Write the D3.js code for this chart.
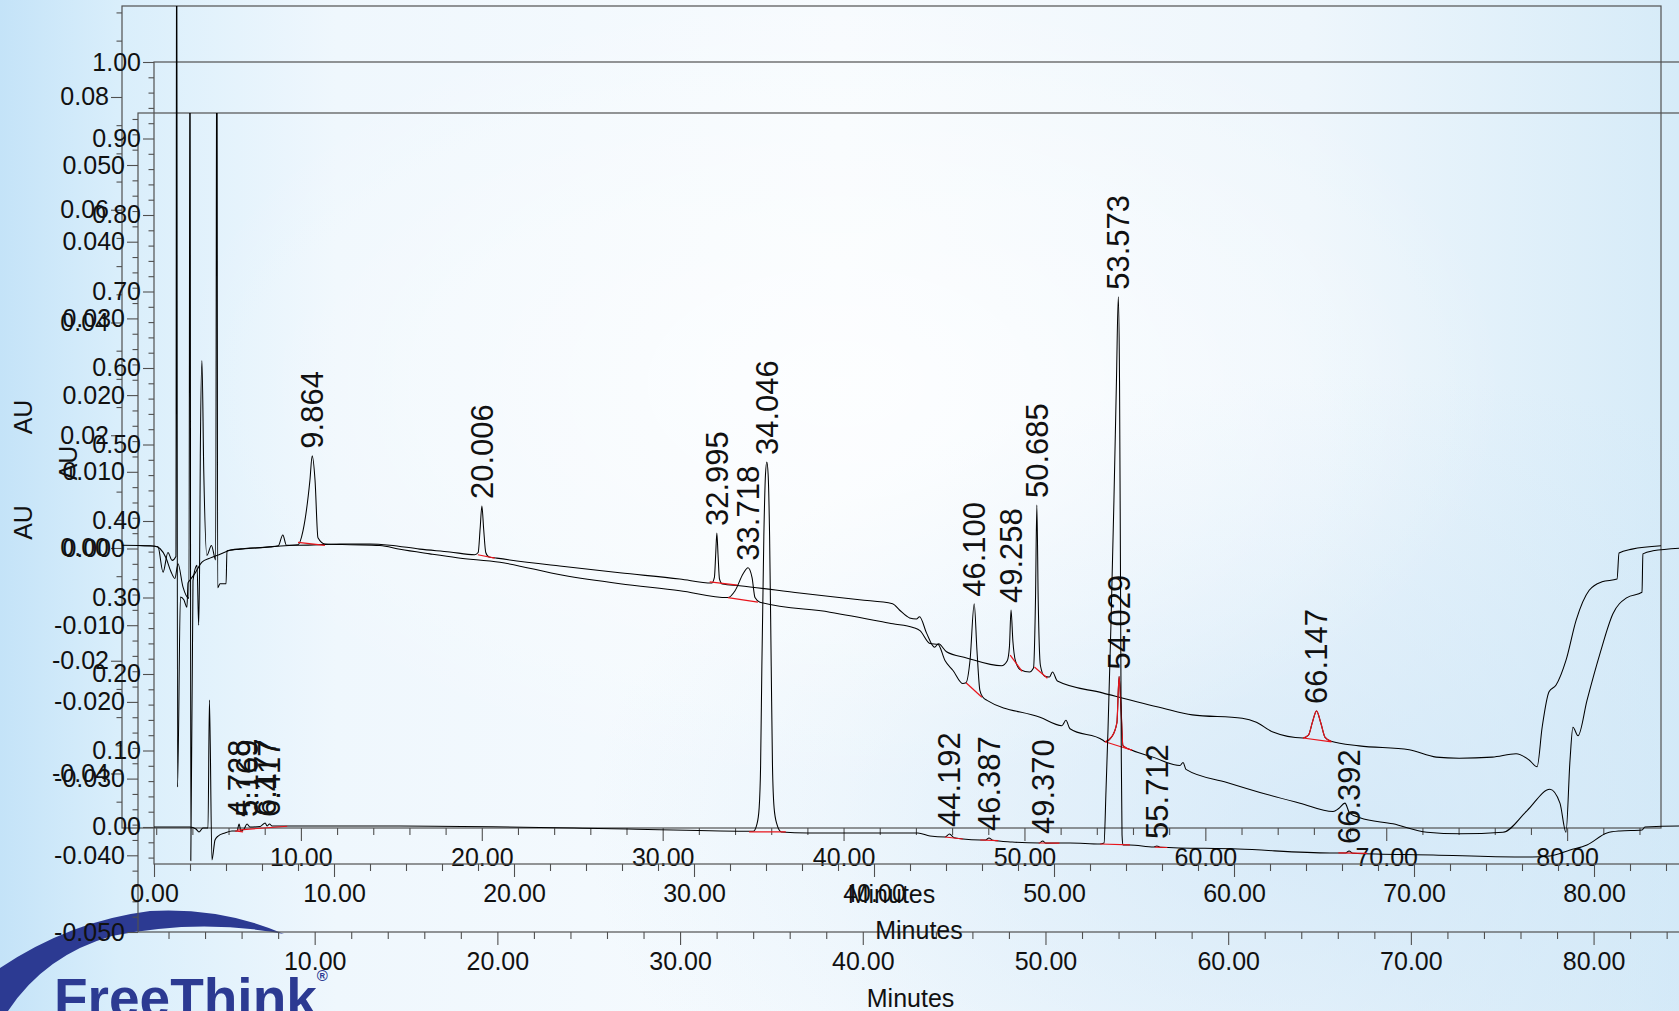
<!DOCTYPE html>
<html>
<head>
<meta charset="utf-8">
<script src="https://cdn.jsdelivr.net/npm/d3@7"></script>
<style>
  html, body { margin: 0; padding: 0; overflow: hidden; background: #eef6fc; }
  svg { display: block; font-family: "Liberation Sans", Arial, Helvetica, sans-serif; }
</style>
</head>
<body>
<svg id="chart" width="1679" height="1011"></svg>
<script>
// ---------------------------------------------------------------
// Chromatogram overlay: three injections, each with its own frame
// and AU axis. Points are [retention time (min), absorbance (AU)].
// ---------------------------------------------------------------

// Injection A (upper trace)
const traceA = [
  [0.11, 0.0005], [1.66, 0.0004], [2.10, 0.0002], [2.38, -0.0043], [2.65, -0.0008],
  [2.88, -0.0022], [3.09, -0.0015], [3.135, 0.13], [3.18, -0.0424], [3.34, -0.0087],
  [3.53, -0.0092], [3.70, -0.0105], [3.76, -0.0062], [3.87, -0.0057], [4.14, -0.0045],
  [4.53, -0.0025], [4.97, -0.0018], [5.47, -0.0012], [6.08, -0.0004], [6.91, -0.0001],
  [8.29, 0.0002], [8.75, 0.0004], [9.00, 0.0023], [9.20, 0.0005], [9.94, 0.0005],
  [12.15, 0.0007], [13.81, 0.0007], [14.92, 0.0005], [16.57, -0.0002], [18.23, -0.0007],
  [19.61, -0.0012], [19.80, -0.0008], [19.91, 0.0035], [20.006, 0.00745], [20.10, 0.0035],
  [20.22, -0.0008], [20.40, -0.0016], [20.83, -0.0018], [24.31, -0.0032], [27.62, -0.0044],
  [30.94, -0.0055], [32.71, -0.0062], [32.86, -0.0052], [32.93, -0.0012], [32.995, 0.00266],
  [33.06, -0.0012], [33.14, -0.0055], [33.30, -0.0064], [34.25, -0.0067], [37.57, -0.0080],
  [40.88, -0.0092], [42.71, -0.0099], [43.09, -0.0110], [43.65, -0.0124], [44.03, -0.0126],
  [44.20, -0.0122], [44.59, -0.0151], [45.03, -0.0176], [45.25, -0.0170], [45.69, -0.0184],
  [46.80, -0.0195], [48.73, -0.0209], [49.05, -0.0200], [49.17, -0.0175], [49.258, -0.0110],
  [49.36, -0.0165], [49.50, -0.0200], [49.78, -0.0216], [50.28, -0.0220], [50.50, -0.0213],
  [50.61, -0.0092], [50.685, 0.00763], [50.76, -0.0092], [50.88, -0.0208], [51.10, -0.0227],
  [51.38, -0.0229], [51.55, -0.0220], [51.82, -0.0236], [54.31, -0.0257], [57.62, -0.0284],
  [59.28, -0.0296], [62.04, -0.0302], [62.82, -0.0309], [63.70, -0.0326], [65.40, -0.0337],
  [65.70, -0.0332], [65.92, -0.0309], [66.147, -0.0289], [66.38, -0.0310], [66.62, -0.0336],
  [66.95, -0.0343], [68.51, -0.0351], [71.27, -0.0358], [72.76, -0.0371], [74.03, -0.0373],
  [75.86, -0.0371], [77.18, -0.0365], [77.90, -0.0376], [78.34, -0.0388], [78.62, -0.0318],
  [79.00, -0.0255], [79.39, -0.0243], [79.94, -0.0199], [80.50, -0.0128], [81.22, -0.0075],
  [81.93, -0.0060], [82.76, -0.0055], [82.87, -0.0009], [83.59, -0.0002], [85.19, 0.0004]
];

// Injection B (middle trace)
const traceB = [
  [0.33, 0.0004], [1.26, 0.0003], [1.53, 0.0000], [1.86, -0.0012], [2.13, -0.0030],
  [2.35, -0.0039], [2.52, -0.0020], [2.79, -0.0050], [3.12, -0.0065], [3.18, 0.08],
  [3.22, -0.0407], [3.34, -0.0042], [3.56, -0.0022], [3.65, -0.0100], [3.70, -0.0025],
  [3.74, 0.0120], [3.83, 0.0245], [3.93, 0.0100], [4.10, -0.0009], [4.35, 0.0004],
  [4.58, -0.0015], [4.65, 0.08], [4.69, -0.0051], [4.82, -0.0046], [5.15, -0.0046],
  [5.20, -0.0003], [5.91, -0.0001], [7.00, 0.0001], [7.99, 0.0003], [9.09, 0.0005],
  [9.36, 0.0023], [9.74, 0.0089], [9.864, 0.0121], [10.02, 0.0089], [10.18, 0.0014],
  [10.56, 0.0006], [11.93, 0.0005], [13.57, 0.0004], [14.67, -0.0001], [16.31, -0.0007],
  [17.79, -0.0012], [20.14, -0.0018], [23.59, -0.0035], [26.71, -0.0046], [29.99, -0.0055],
  [32.62, -0.0064], [33.01, -0.0055], [33.45, -0.0033], [33.718, -0.0025], [33.94, -0.0038],
  [34.10, -0.0064], [34.37, -0.0070], [38.20, -0.0083], [41.65, -0.0098], [42.75, -0.0103],
  [43.13, -0.0107], [43.68, -0.0124], [44.12, -0.0125], [44.50, -0.0146], [44.94, -0.0159],
  [45.48, -0.0176], [45.65, -0.0175], [45.87, -0.0146], [46.100, -0.0072], [46.25, -0.0133],
  [46.41, -0.0185], [46.58, -0.0194], [46.80, -0.0198], [49.70, -0.0220], [50.90, -0.0231],
  [51.12, -0.0224], [51.34, -0.0235], [53.15, -0.0250], [53.26, -0.0252], [53.64, -0.0245],
  [53.91, -0.0227], [54.029, -0.0167], [54.13, -0.0205], [54.24, -0.0257], [54.74, -0.0263],
  [55.88, -0.0272], [57.36, -0.0283], [57.53, -0.0279], [57.69, -0.0288], [59.93, -0.0305],
  [61.74, -0.0318], [63.93, -0.0332], [65.74, -0.0343], [66.05, -0.0339], [66.39, -0.0332],
  [66.65, -0.0345], [67.21, -0.0351], [69.02, -0.0359], [70.88, -0.0370], [72.69, -0.0372],
  [75.04, -0.0370], [76.35, -0.0342], [77.61, -0.0314], [78.16, -0.0332], [78.49, -0.0370],
  [78.71, -0.0276], [78.87, -0.0233], [79.15, -0.0244], [79.64, -0.0198], [80.35, -0.0137],
  [81.06, -0.0085], [81.83, -0.0064], [82.65, -0.0057], [82.70, -0.0007], [83.25, -0.0003],
  [85.20, 0.0001]
];

// Injection C (lower trace, full-scale AU)
const traceC = [
  [0.00, 0.0000], [2.00, 0.0000], [2.33, -0.0026], [2.50, -0.0065], [2.72, -0.0013],
  [3.00, -0.0013], [3.08, 0.166], [3.22, -0.0431], [3.39, -0.0170], [3.56, -0.0118],
  [3.94, -0.0078], [4.33, -0.0052], [4.61, -0.0052], [4.728, 0.0039], [4.83, -0.0052],
  [5.00, -0.0026], [5.169, 0.0039], [5.33, 0.0000], [5.90, 0.0007], [6.177, 0.0052],
  [6.28, 0.0013], [6.417, 0.0039], [6.56, 0.0013], [7.56, 0.0013], [13.67, 0.0013],
  [26.33, -0.0026], [33.30, -0.0055], [33.50, 0.004], [33.62, 0.025], [33.70, 0.08],
  [33.77, 0.21], [33.88, 0.38], [33.97, 0.46], [34.046, 0.477], [34.12, 0.46],
  [34.20, 0.38], [34.29, 0.21], [34.36, 0.08], [34.45, 0.025], [34.60, 0.004],
  [34.85, -0.0065], [36.33, -0.0078], [42.44, -0.0078], [43.11, -0.0118], [43.94, -0.0131],
  [44.192, -0.0092], [44.45, -0.0140], [44.94, -0.0157], [45.89, -0.0170], [46.20, -0.0170],
  [46.387, -0.0144], [46.60, -0.0172], [47.67, -0.0196], [49.20, -0.0209], [49.370, -0.0183],
  [49.55, -0.0211], [50.89, -0.0209], [52.56, -0.0222], [52.78, -0.0209], [52.89, 0.048],
  [53.00, 0.127], [53.17, 0.27], [53.33, 0.427], [53.47, 0.584], [53.573, 0.693],
  [53.64, 0.584], [53.69, 0.349], [53.74, 0.088], [53.78, -0.0105], [53.83, -0.0235],
  [54.22, -0.0235], [55.55, -0.0262], [55.712, -0.0248], [55.90, -0.0264], [60.22, -0.0288],
  [65.33, -0.0340], [66.20, -0.0340], [66.392, -0.0314], [66.60, -0.0342], [71.06, -0.0366],
  [75.89, -0.0392], [76.56, -0.0392], [77.56, -0.0379], [78.67, -0.0301], [79.61, -0.0235],
  [80.72, -0.0078], [81.44, -0.0052], [82.67, -0.0039], [82.83, 0.0000], [84.72, 0.0013],
  [85.60, 0.0013]
];

// Peak retention-time labels (each one is an apex in its trace)
const peaksA = ["20.006", "32.995", "49.258", "50.685", "66.147"];
const peaksB = ["9.864", "33.718", "46.100", "54.029"];
const peaksC = ["4.728", "5.169", "6.177", "6.417", "34.046", "44.192", "46.387",
                "49.370", "53.573", "55.712", "66.392"];

// Integration baselines: [t start, AU start, t end, AU end]
const baselinesA = [[19.78, -0.0012, 20.72, -0.0018], [32.60, -0.0060, 34.14, -0.0066],
                    [49.21, -0.0190, 49.87, -0.0219], [50.55, -0.0211, 51.27, -0.0231],
                    [65.40, -0.0337, 66.98, -0.0344]];
const baselinesB = [[9.09, 0.0008, 10.56, 0.0004], [32.62, -0.0064, 34.26, -0.0070],
                    [45.65, -0.0175, 46.52, -0.0194], [53.26, -0.0252, 54.74, -0.0263]];
const baselinesC = [[4.50, -0.0052, 4.95, -0.0065], [4.62, -0.0040, 7.40, 0.0010],
                    [33.06, -0.0065, 35.10, -0.0065], [43.94, -0.0131, 44.94, -0.0157],
                    [45.90, -0.0170, 46.90, -0.0178], [49.15, -0.0209, 50.30, -0.0212],
                    [52.56, -0.0222, 54.22, -0.0235], [55.60, -0.0262, 56.30, -0.0268],
                    [65.80, -0.0338, 67.40, -0.0345]];

// Peaks drawn in red: [t start, t end]
const redSpansA = [[65.40, 66.95]];
const redSpansB = [[53.26, 54.74]];
const redSpansC = [];

// Axis tick values
const yTicksA = [-0.04, -0.02, 0.00, 0.02, 0.04, 0.06, 0.08];
const yTicksB = [-0.050, -0.040, -0.030, -0.020, -0.010, 0.000, 0.010, 0.020, 0.030, 0.040, 0.050];
const yTicksC = [0.00, 0.10, 0.20, 0.30, 0.40, 0.50, 0.60, 0.70, 0.80, 0.90, 1.00];
const xTicksA = [10, 20, 30, 40, 50, 60, 70, 80];
const xTicksB = [10, 20, 30, 40, 50, 60, 70, 80];
const xTicksC = [0, 10, 20, 30, 40, 50, 60, 70, 80];

// ---------------------------------------------------------------
const W = 1679, H = 1011;
const svg = d3.select("#chart");
const defs = svg.append("defs");

// background wash
const bgH = defs.append("linearGradient").attr("id", "bgH")
  .attr("x1", 0).attr("x2", 1).attr("y1", 0).attr("y2", 0);
[["0%", "#c4e3f8"], ["7%", "#d9eefb"], ["20%", "#eff7fd"], ["50%", "#f7fbfe"],
 ["78%", "#eef6fc"], ["100%", "#d6ebf8"]]
  .forEach(([o, c]) => bgH.append("stop").attr("offset", o).attr("stop-color", c));
const bgR = defs.append("radialGradient").attr("id", "bgR")
  .attr("cx", "80%").attr("cy", "82%").attr("r", "45%");
bgR.append("stop").attr("offset", "0%").attr("stop-color", "#cfe6f7").attr("stop-opacity", 0.75);
bgR.append("stop").attr("offset", "100%").attr("stop-color", "#cfe6f7").attr("stop-opacity", 0);
const bgW = defs.append("radialGradient").attr("id", "bgW")
  .attr("cx", "50%").attr("cy", "38%").attr("r", "40%");
bgW.append("stop").attr("offset", "0%").attr("stop-color", "#ffffff").attr("stop-opacity", 0.7);
bgW.append("stop").attr("offset", "100%").attr("stop-color", "#ffffff").attr("stop-opacity", 0);

svg.append("rect").attr("width", W).attr("height", H).attr("fill", "url(#bgH)");
svg.append("rect").attr("width", W).attr("height", H).attr("fill", "url(#bgR)");
svg.append("rect").attr("width", W).attr("height", H).attr("fill", "url(#bgW)");

// company mark, lower left
const logo = svg.append("g");
logo.append("path")
  .attr("d", "M0,968 Q70,921 150,911 Q222,907 284,934 Q200,918 112,936 Q45,955 8,1011 L0,1011 Z")
  .attr("fill", "#2c3a92");
const brand = logo.append("text").attr("x", 54).attr("y", 1017)
  .attr("font-size", 55).attr("font-weight", "bold").attr("fill", "#2c3a92")
  .text("FreeThink");
brand.append("tspan").attr("font-size", 15).attr("dy", -36).text("®");

// ---------------------------------------------------------------
const FRAME = "#505050";
const INK = "#111";
const LBL = 25;     // tick / title font size
const PKL = 31;     // peak label font size

const panels = [
  {
    id: "A", trace: traceA, peaks: peaksA, baselines: baselinesA, red: redSpansA,
    x: d3.scaleLinear().domain([0.11, 85.19]).range([122, 1661]),
    y: d3.scaleLinear().domain([-0.04967, 0.09614]).range([828, 6]),
    yTicks: yTicksA, yStep: 0.005, yMinorRange: [-9, 19], yMajorEvery: 4, yFmt: 2,
    xTicks: xTicksA, auX: 23
  },
  {
    id: "B", trace: traceB, peaks: peaksB, baselines: baselinesB, red: redSpansB,
    x: d3.scaleLinear().domain([0.33, 84.9]).range([138, 1683.1]),
    y: d3.scaleLinear().domain([-0.0500, 0.05678]).range([932, 113]),
    yTicks: yTicksB, yStep: 0.002, yMinorRange: [-25, 28], yMajorEvery: 5, yFmt: 3,
    xTicks: xTicksB, auX: 23
  },
  {
    id: "C", trace: traceC, peaks: peaksC, baselines: baselinesC, red: redSpansC,
    x: d3.scaleLinear().domain([0, 85.0]).range([154, 1684]),
    y: d3.scaleLinear().domain([-0.04837, 1.0]).range([864, 62]),
    yTicks: yTicksC, yStep: 0.02, yMinorRange: [-2, 50], yMajorEvery: 5, yFmt: 2,
    xTicks: xTicksC, auX: 68
  }
];

const fmt = d => (Math.abs(d) < 1e-12 ? 0 : d);

function styleAxis(sel) {
  sel.select(".domain").remove();
  sel.attr("font-size", LBL).attr("font-family", null);
  sel.selectAll("line").attr("stroke", FRAME).attr("stroke-width", 1.1);
  sel.selectAll("text").attr("fill", INK);
}

// frames, axes and titles
panels.forEach(p => {
  const [x0, x1] = p.x.range();
  const [yb, yt] = p.y.range();
  const g = svg.append("g").attr("class", "frame-" + p.id);

  g.append("rect").attr("x", x0).attr("y", yt).attr("width", x1 - x0).attr("height", yb - yt)
    .attr("fill", "none").attr("stroke", FRAME).attr("stroke-width", 1.2);

  // y axis: labelled majors and unlabelled minors
  const minors = d3.range(p.yMinorRange[0], p.yMinorRange[1] + 1)
    .filter(i => i % p.yMajorEvery !== 0).map(i => i * p.yStep);
  g.append("g").attr("transform", `translate(${x0},0)`)
    .call(d3.axisLeft(p.y).tickValues(minors).tickFormat("").tickSize(5.5).tickSizeOuter(0))
    .call(styleAxis);
  g.append("g").attr("transform", `translate(${x0},0)`)
    .call(d3.axisLeft(p.y).tickValues(p.yTicks).tickSize(11).tickSizeOuter(0).tickPadding(2)
      .tickFormat(d => fmt(d).toFixed(p.yFmt)))
    .call(styleAxis);

  // x axis: minutes, minor tick every 2 min
  const [dx0, dx1] = p.x.domain();
  const xMinor = d3.range(0, 86, 2).filter(t => t % 10 !== 0 && t >= dx0 && t <= dx1);
  g.append("g").attr("transform", `translate(0,${yb})`)
    .call(d3.axisBottom(p.x).tickValues(xMinor).tickFormat("").tickSize(7).tickSizeOuter(0))
    .call(styleAxis);
  g.append("g").attr("transform", `translate(0,${yb})`)
    .call(d3.axisBottom(p.x).tickValues(p.xTicks).tickSize(13).tickSizeOuter(0).tickPadding(7)
      .tickFormat(d => d.toFixed(2)))
    .call(styleAxis);

  g.append("text").attr("x", (x0 + x1) / 2).attr("y", yb + 66).attr("dy", "0.35em")
    .attr("text-anchor", "middle").attr("font-size", LBL).attr("fill", INK).text("Minutes");
  g.append("text").attr("transform", `translate(${p.auX},${(yb + yt) / 2}) rotate(-90)`)
    .attr("dy", "0.35em").attr("text-anchor", "middle").attr("font-size", LBL)
    .attr("fill", INK).text("AU");

  defs.append("clipPath").attr("id", "clip" + p.id)
    .append("rect").attr("x", x0).attr("y", yt).attr("width", x1 - x0).attr("height", yb - yt);
});

// traces, integration baselines and peak labels
panels.forEach(p => {
  const g = svg.append("g").attr("clip-path", `url(#clip${p.id})`);
  const line = d3.line().x(d => p.x(d[0])).y(d => p.y(d[1])).curve(d3.curveMonotoneX);

  g.append("path").datum(p.trace).attr("d", line)
    .attr("fill", "none").attr("stroke", "#000").attr("stroke-width", 1.05)
    .attr("stroke-linejoin", "round");

  p.red.forEach(([t0, t1]) => {
    g.append("path").datum(p.trace.filter(d => d[0] >= t0 && d[0] <= t1)).attr("d", line)
      .attr("fill", "none").attr("stroke", "#e8141b").attr("stroke-width", 1.2);
  });

  g.selectAll("line.base").data(p.baselines).join("line").attr("class", "base")
    .attr("x1", d => p.x(d[0])).attr("y1", d => p.y(d[1]))
    .attr("x2", d => p.x(d[2])).attr("y2", d => p.y(d[3]))
    .attr("stroke", "#e8141b").attr("stroke-width", 1.2);

  const lg = svg.append("g");
  p.peaks.forEach(lbl => {
    const rt = +lbl;
    const apex = p.trace.find(d => d[0] === rt);
    lg.append("text")
      .attr("transform", `translate(${p.x(rt)},${p.y(apex[1]) - 7}) rotate(-90)`)
      .attr("dy", "0.35em").attr("font-size", PKL).attr("fill", INK).text(lbl);
  });
});
</script>
</body>
</html>
